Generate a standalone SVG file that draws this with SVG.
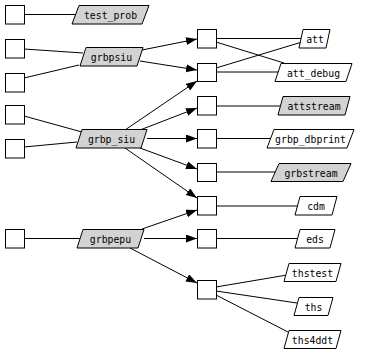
<svg xmlns="http://www.w3.org/2000/svg" width="368" height="353" viewBox="0 0 368 353">
<style>
.b{fill:#fff;stroke:#000;stroke-width:1}
.p{stroke:#000;stroke-width:1}
.g{fill:#d3d3d3}
.w{fill:#fff}
text{font-family:"DejaVu Sans Mono","Liberation Mono",monospace;font-size:9.8px;text-anchor:middle;dominant-baseline:central;fill:#000}
.e path{fill:none;stroke:#000;stroke-width:1}
.e .a{marker-end:url(#ah)}
</style>
<defs>
<marker id="ah" markerUnits="userSpaceOnUse" markerWidth="12" markerHeight="9" refX="11" refY="4" orient="auto">
<path d="M0,0 L11,4 L0,8 z" fill="#000"/>
</marker>
</defs>
<rect width="368" height="353" fill="#fff"/>
<g class="e">
<path d="M24,14.5 L76,14.5"/>
<path d="M24,49 L83,53"/>
<path d="M24,78 L79,65"/>
<path d="M24,116 L82,132"/>
<path d="M24,147 L77,142"/>
<path d="M24,238.5 L80,238.5"/>
<path class="a" d="M142,50 L197,39"/>
<path class="a" d="M140,61 L197,70"/>
<path class="a" d="M125,130 L197,81"/>
<path class="a" d="M140,130 L197,108"/>
<path class="a" d="M147,138.5 L197,138.5"/>
<path class="a" d="M140,148 L197,169"/>
<path class="a" d="M125,148 L197,198"/>
<path class="a" d="M142,229 L197,210"/>
<path class="a" d="M144,238.5 L197,238.5"/>
<path class="a" d="M130,248 L197,283"/>
<path d="M216,38.5 L301,38.5"/>
<path d="M216,42 L284,63"/>
<path d="M216,68 L302,42"/>
<path d="M216,72 L278,72"/>
<path d="M216,106 L281,106"/>
<path d="M216,138.5 L271,138.5"/>
<path d="M216,172 L275,172"/>
<path d="M216,206 L298,206"/>
<path d="M216,238.5 L298,238.5"/>
<path d="M216,287 L287,275"/>
<path d="M216,291 L297,303"/>
<path d="M216,295 L288,332"/>
</g>
<g id="src1"><rect class="b" x="5.5" y="5.5" width="19" height="18.5"/></g>
<g id="src2"><rect class="b" x="5.5" y="39.5" width="19" height="18.5"/></g>
<g id="src3"><rect class="b" x="5.5" y="73.5" width="19" height="18.5"/></g>
<g id="src4"><rect class="b" x="5.5" y="105.5" width="19" height="18.5"/></g>
<g id="src5"><rect class="b" x="5.5" y="139.5" width="19" height="18.5"/></g>
<g id="src6"><rect class="b" x="5.5" y="229.5" width="19" height="18.5"/></g>
<g id="test_prob"><polygon class="p g" points="79,5.5 149,5.5 142,24 72,24"/><text x="110.5" y="15">test_prob</text></g>
<g id="grbpsiu"><polygon class="p g" points="86,47.5 143,47.5 137,66 80,66"/><text x="111.5" y="57">grbpsiu</text></g>
<g id="grbp_siu"><polygon class="p g" points="82,129.5 147,129.5 141,148 76,148"/><text x="111.5" y="139">grbp_siu</text></g>
<g id="grbpepu"><polygon class="p g" points="83,229.5 144,229.5 138,248 77,248"/><text x="110.5" y="239">grbpepu</text></g>
<g id="m1"><rect class="b" x="197.5" y="29.5" width="19" height="18.5"/></g>
<g id="m2"><rect class="b" x="197.5" y="63.5" width="19" height="18"/></g>
<g id="m3"><rect class="b" x="197.5" y="96.5" width="19" height="18.5"/></g>
<g id="m4"><rect class="b" x="197.5" y="129.5" width="19" height="18.5"/></g>
<g id="m5"><rect class="b" x="197.5" y="163.5" width="19" height="18"/></g>
<g id="m6"><rect class="b" x="197.5" y="196.5" width="19" height="18.5"/></g>
<g id="m7"><rect class="b" x="197.5" y="229.5" width="19" height="18.5"/></g>
<g id="m8"><rect class="b" x="197.5" y="280.5" width="19" height="18.5"/></g>
<g id="att"><polygon class="p w" points="303,29.5 330,29.5 326,48 299,48"/><text x="315" y="39">att</text></g>
<g id="att_debug"><polygon class="p w" points="281,63.5 352,63.5 346,81.5 275,81.5"/><text x="313.5" y="73">att_debug</text></g>
<g id="attstream"><polygon class="p g" points="283,96.5 350,96.5 345,115 278,115"/><text x="314" y="106">attstream</text></g>
<g id="grbp_dbprint"><polygon class="p w" points="274,129.5 354,129.5 347,148 267,148"/><text x="310.5" y="139">grbp_dbprint</text></g>
<g id="grbstream"><polygon class="p g" points="279,163.5 351,163.5 343,181.5 271,181.5"/><text x="311" y="173">grbstream</text></g>
<g id="cdm"><polygon class="p w" points="300,196.5 337,196.5 332,215 295,215"/><text x="316" y="206">cdm</text></g>
<g id="eds"><polygon class="p w" points="300,229.5 335,229.5 330,248 295,248"/><text x="315" y="239">eds</text></g>
<g id="thstest"><polygon class="p w" points="289,263.5 341,263.5 336,281.5 284,281.5"/><text x="312.5" y="273">thstest</text></g>
<g id="ths"><polygon class="p w" points="299,297.5 333,297.5 328,315.5 294,315.5"/><text x="313.5" y="307">ths</text></g>
<g id="ths4ddt"><polygon class="p w" points="289,330.5 341,330.5 336,348.5 284,348.5"/><text x="312.5" y="340">ths4ddt</text></g>
</svg>
